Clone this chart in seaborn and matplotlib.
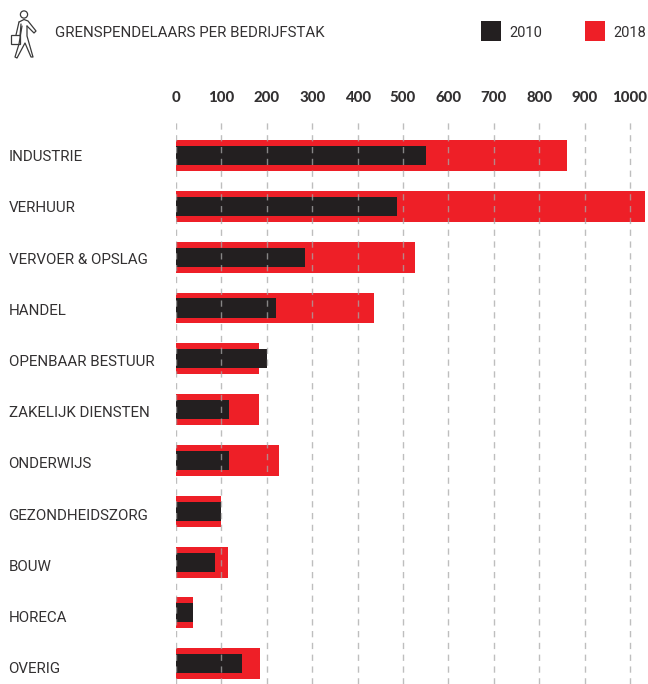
import matplotlib
matplotlib.use("Agg")
import matplotlib.pyplot as plt
from matplotlib.lines import Line2D
from matplotlib.patches import Circle, Rectangle
import pandas as pd
import seaborn as sns

categories = ["INDUSTRIE", "VERHUUR", "VERVOER & OPSLAG", "HANDEL", "OPENBAAR BESTUUR",
              "ZAKELIJK DIENSTEN", "ONDERWIJS", "GEZONDHEIDSZORG", "BOUW", "HORECA", "OVERIG"]
values_2010 = [550, 486, 285, 221, 200, 116, 116, 100, 85, 38, 146]
values_2018 = [861, 1033, 526, 437, 182, 182, 226, 100, 115, 38, 184]
x_ticks = [0, 100, 200, 300, 400, 500, 600, 700, 800, 900, 1000]

RED = "#EE1F27"
BLACK = "#231F20"
TEXT = "#333132"
W, H = 648, 684

sns.set_theme(style="white")
plt.rcParams["font.family"] = ["Roboto", "DejaVu Sans"]

df = pd.DataFrame({"cat": categories, "v2010": values_2010, "v2018": values_2018})

fig = plt.figure(figsize=(W / 100, H / 100), dpi=100)
ax = fig.add_axes([176.0 / W, 0, (645 - 176.0) / W, (684 - 120) / H])

sns.barplot(data=df, y="cat", x="v2018", color=RED, width=0.61, saturation=1, linewidth=0, ax=ax, zorder=2)
sns.barplot(data=df, y="cat", x="v2010", color=BLACK, width=0.374, saturation=1, linewidth=0, ax=ax, zorder=3)

ax.set_xlim(0, 1033)
ax.set_ylim(10.40, -0.70)
ax.set_xlabel("")
ax.set_ylabel("")
sns.despine(ax=ax, left=True, bottom=True)

# dashed grid sits on top of the bars
ax.xaxis.tick_top()
ax.set_xticks(x_ticks)
ax.set_xticklabels(x_ticks, fontsize=10.8, fontweight="black", family="Lato", color=TEXT)
ax.tick_params(axis="x", length=0, pad=10.5)
ax.tick_params(axis="y", length=0)
ax.grid(axis="x", color="#a8a8a8", alpha=0.75, linestyle=(0, (4.5, 4)), linewidth=1)
ax.xaxis.set_zorder(5)

# the labels drift slightly from the bars in the original, so they get their own spacing
ax.set_yticks([i * 1.008 for i in range(len(categories))])
ax.set_yticklabels(categories, fontsize=10.9, color=TEXT, ha="left")
ax.tick_params(axis="y", pad=167.5 * 0.72)

fig.text(55 / W, 1 - 33 / H, "GRENSPENDELAARS PER BEDRIJFSTAK", fontsize=10.85, color=TEXT, va="center")

# overlay in pixel coordinates for legend squares and the walker icon
over = fig.add_axes([0, 0, 1, 1], facecolor="none")
over.set_xlim(0, W)
over.set_ylim(H, 0)
over.axis("off")

over.add_patch(Rectangle((481, 21), 20, 20, color=BLACK, lw=0))
over.add_patch(Rectangle((585, 21), 20, 20, color=RED, lw=0))
fig.text(509 / W, 1 - 33 / H, "2010", fontsize=10.5, color=TEXT, va="center")
fig.text(613 / W, 1 - 33 / H, "2018", fontsize=10.5, color=TEXT, va="center")

icon = "#3a3a3a"
over.add_patch(Circle((24, 14.5), 3.6, fill=False, ec=icon, lw=0.9))
over.add_patch(Rectangle((10.5, 35), 9, 9, fill=False, ec=icon, lw=0.9))
walker = [
    [(19, 22), (24, 19.5), (28, 21), (36, 31), (34, 33), (27, 26)],
    [(19, 22), (16, 35)],
    [(22, 26), (19, 44), (15, 57), (17, 58), (25, 43), (31, 57), (33, 57), (27, 36), (27, 26)],
    [(21, 24), (20, 36)],
]
for seg in walker:
    xs, ys = zip(*seg)
    over.add_line(Line2D(xs, ys, color=icon, lw=0.9, solid_joinstyle="round"))

fig.savefig("out.png", dpi=100)
